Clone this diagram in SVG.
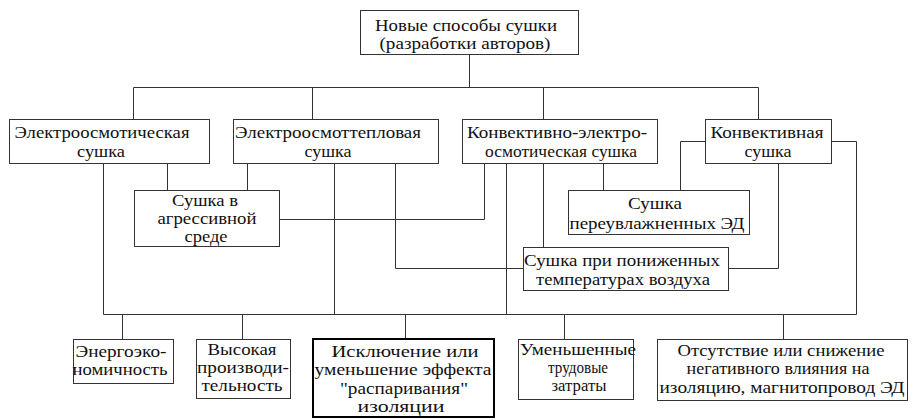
<svg xmlns="http://www.w3.org/2000/svg" width="923" height="420" viewBox="0 0 923 420" font-family="Liberation Serif, DejaVu Serif, serif">
<style>
.b{fill:#fff;stroke:#333;stroke-width:1}
.bt{fill:#fff;stroke:#000;stroke-width:2}
.c{fill:none;stroke:#333;stroke-width:1}
.t{font-family:'Liberation Serif','DejaVu Serif',serif;font-size:17px;fill:#111;text-anchor:middle}
</style>
<rect width="923" height="420" fill="#fff"/>
<g id="connectors">
<path class="c" d="M469.5 54V87.5M133.5 87.5H758.5M133.5 87.5V119M312.5 87.5V119M543.5 87.5V119M758.5 87.5V119"/>
<path class="c" d="M103.5 163V314.5M167.5 163V190M247.5 163V190M334.5 163V314.5M395.5 163V268.5H523"/>
<path class="c" d="M279 219.5H484.5V163M506.5 163V314.5M543.5 163V247M603.5 163V190"/>
<path class="c" d="M705 141.5H680.5V190M831 141.5H856.5V314.5M778.5 163V268.5H728"/>
<path class="c" d="M103.5 314.5H856.5M122.5 314.5V339M242.5 314.5V339M405.5 314.5V339M564.5 314.5V339M783.5 314.5V339"/>
</g>
<g id="root" class="t"><rect class="b" x="360.5" y="10.5" width="218" height="44"/><text x="466" y="31" textLength="182" lengthAdjust="spacingAndGlyphs">Новые способы сушки</text><text x="465" y="49" textLength="171" lengthAdjust="spacingAndGlyphs">(разработки авторов)</text></g>
<g id="n1" class="t"><rect class="b" x="9.5" y="119.5" width="200" height="44"/><text x="102" y="138" textLength="175" lengthAdjust="spacingAndGlyphs">Электроосмотическая</text><text x="101" y="157" textLength="48" lengthAdjust="spacingAndGlyphs">сушка</text></g>
<g id="n2" class="t"><rect class="b" x="233.5" y="119.5" width="205" height="44"/><text x="328" y="138" textLength="186" lengthAdjust="spacingAndGlyphs">Электроосмоттепловая</text><text x="328" y="157" textLength="47" lengthAdjust="spacingAndGlyphs">сушка</text></g>
<g id="n3" class="t"><rect class="b" x="462.5" y="119.5" width="195" height="44"/><text x="557" y="138" textLength="180" lengthAdjust="spacingAndGlyphs">Конвективно-электро-</text><text x="561" y="157" textLength="152" lengthAdjust="spacingAndGlyphs">осмотическая сушка</text></g>
<g id="n4" class="t"><rect class="b" x="705.5" y="119.5" width="126" height="44"/><text x="767" y="138" textLength="113" lengthAdjust="spacingAndGlyphs">Конвективная</text><text x="768" y="157" textLength="47" lengthAdjust="spacingAndGlyphs">сушка</text></g>
<g id="n5" class="t"><rect class="b" x="134.5" y="190.5" width="145" height="56"/><text x="205" y="206" textLength="66" lengthAdjust="spacingAndGlyphs">Сушка в</text><text x="207" y="224" textLength="99" lengthAdjust="spacingAndGlyphs">агрессивной</text><text x="206" y="242" textLength="43" lengthAdjust="spacingAndGlyphs">среде</text></g>
<g id="n6" class="t"><rect class="b" x="568.5" y="190.5" width="181" height="44"/><text x="655" y="209" textLength="54" lengthAdjust="spacingAndGlyphs">Сушка</text><text x="657" y="229" textLength="175" lengthAdjust="spacingAndGlyphs">переувлажненных ЭД</text></g>
<g id="n7" class="t"><rect class="b" x="523.5" y="247.5" width="205" height="43"/><text x="622" y="266" textLength="196" lengthAdjust="spacingAndGlyphs">Сушка при пониженных</text><text x="623" y="285" textLength="174" lengthAdjust="spacingAndGlyphs">температурах воздуха</text></g>
<g id="r1" class="t"><rect class="b" x="73.5" y="339.5" width="100" height="44"/><text x="121" y="357" textLength="91" lengthAdjust="spacingAndGlyphs">Энергоэко-</text><text x="120" y="375" textLength="95" lengthAdjust="spacingAndGlyphs">номичность</text></g>
<g id="r2" class="t"><rect class="b" x="196.5" y="339.5" width="94" height="59"/><text x="242" y="355" textLength="69" lengthAdjust="spacingAndGlyphs">Высокая</text><text x="243" y="373" textLength="92" lengthAdjust="spacingAndGlyphs">производи-</text><text x="242" y="391" textLength="81" lengthAdjust="spacingAndGlyphs">тельность</text></g>
<g id="r3" class="t"><rect class="bt" x="313" y="339" width="181" height="78"/><text x="405" y="357" textLength="147" lengthAdjust="spacingAndGlyphs">Исключение или</text><text x="403" y="375" textLength="177" lengthAdjust="spacingAndGlyphs">уменьшение эффекта</text><text x="404" y="394" textLength="128" lengthAdjust="spacingAndGlyphs">"распаривания"</text><text x="401" y="412" textLength="87" lengthAdjust="spacingAndGlyphs">изоляции</text></g>
<g id="r4" class="t"><rect class="b" x="518.5" y="339.5" width="115" height="60"/><text x="578" y="355" textLength="116" lengthAdjust="spacingAndGlyphs">Уменьшенные</text><text x="578" y="373" textLength="60" lengthAdjust="spacingAndGlyphs">трудовые</text><text x="579" y="391" textLength="55" lengthAdjust="spacingAndGlyphs">затраты</text></g>
<g id="r5" class="t"><rect class="b" x="657.5" y="339.5" width="250" height="61"/><text x="781" y="356" textLength="207" lengthAdjust="spacingAndGlyphs">Отсутствие или снижение</text><text x="778" y="374" textLength="183" lengthAdjust="spacingAndGlyphs">негативного влияния на</text><text x="782" y="393" textLength="245" lengthAdjust="spacingAndGlyphs">изоляцию, магнитопровод ЭД</text></g>
</svg>
